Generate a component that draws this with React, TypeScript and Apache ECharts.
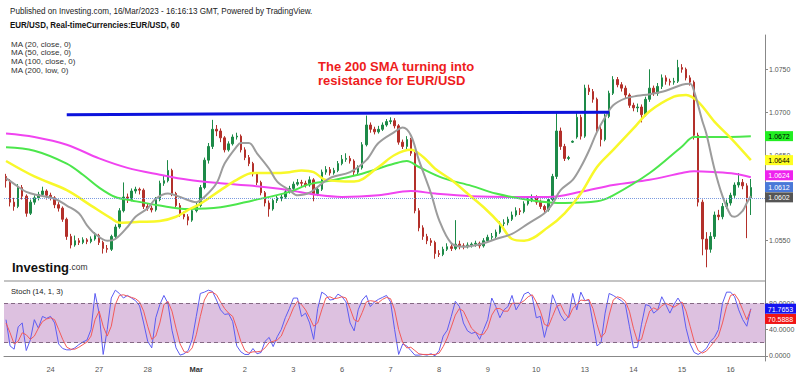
import React, { useEffect, useRef } from "react";
import * as echarts from "echarts";

const FONT = "'Liberation Sans', Arial, sans-serif";

// x axis: 2-hour slots per trading day (Feb 23 starts at 02:00)
const dayLabels = ["23", "24", "27", "28", "Mar", "2", "3", "6", "7", "8", "9", "10", "13", "14", "15", "16"];
const firstDayStartHour = 2;
const slotCount = 188;

// [open, close, low, high]
const candles: number[][] = [
  [1.0625,1.0620,1.0612,1.0628],[1.0620,1.0595,1.0590,1.0622],[1.0595,1.0590,1.0585,1.0600],[1.0590,1.0612,1.0588,1.0616],[1.0612,1.0602,1.0598,1.0615],
  [1.0602,1.0582,1.0578,1.0604],[1.0582,1.0595,1.0580,1.0598],[1.0595,1.0600,1.0592,1.0603],[1.0600,1.0604,1.0597,1.0607],[1.0604,1.0608,1.0601,1.0613],
  [1.0608,1.0603,1.0598,1.0610],[1.0603,1.0600,1.0597,1.0606],[1.0600,1.0592,1.0588,1.0602],[1.0592,1.0588,1.0584,1.0595],[1.0588,1.0575,1.0572,1.0590],
  [1.0575,1.0555,1.0551,1.0577],[1.0555,1.0545,1.0541,1.0558],[1.0545,1.0550,1.0543,1.0556],[1.0550,1.0548,1.0545,1.0553],[1.0548,1.0551,1.0546,1.0554],
  [1.0551,1.0549,1.0546,1.0553],[1.0549,1.0552,1.0547,1.0555],[1.0552,1.0556,1.0550,1.0560],[1.0556,1.0548,1.0545,1.0558],[1.0548,1.0541,1.0535,1.0550],
  [1.0541,1.0540,1.0536,1.0545],[1.0540,1.0555,1.0538,1.0557],[1.0555,1.0566,1.0553,1.0569],[1.0566,1.0585,1.0564,1.0588],[1.0585,1.0601,1.0583,1.0618],
  [1.0601,1.0598,1.0594,1.0605],[1.0598,1.0608,1.0596,1.0611],[1.0608,1.0610,1.0605,1.0613],[1.0610,1.0609,1.0604,1.0612],[1.0609,1.0590,1.0587,1.0611],
  [1.0590,1.0588,1.0585,1.0593],[1.0588,1.0586,1.0583,1.0591],[1.0586,1.0598,1.0584,1.0601],[1.0598,1.0617,1.0596,1.0620],[1.0617,1.0620,1.0614,1.0626],
  [1.0620,1.0632,1.0618,1.0644],[1.0632,1.0605,1.0602,1.0634],[1.0605,1.0591,1.0588,1.0607],[1.0591,1.0581,1.0578,1.0594],[1.0581,1.0578,1.0575,1.0584],
  [1.0578,1.0574,1.0568,1.0581],[1.0574,1.0585,1.0572,1.0588],[1.0585,1.0591,1.0583,1.0594],[1.0591,1.0612,1.0589,1.0615],[1.0612,1.0644,1.0610,1.0647],
  [1.0644,1.0660,1.0640,1.0664],[1.0660,1.0680,1.0657,1.0691],[1.0680,1.0678,1.0672,1.0685],[1.0678,1.0670,1.0665,1.0681],[1.0670,1.0656,1.0653,1.0672],
  [1.0656,1.0663,1.0654,1.0666],[1.0663,1.0671,1.0661,1.0674],[1.0671,1.0672,1.0668,1.0676],[1.0672,1.0656,1.0653,1.0674],[1.0656,1.0647,1.0644,1.0659],
  [1.0647,1.0640,1.0637,1.0650],[1.0640,1.0628,1.0625,1.0642],[1.0628,1.0618,1.0615,1.0630],[1.0618,1.0606,1.0603,1.0620],[1.0606,1.0594,1.0590,1.0608],
  [1.0594,1.0587,1.0578,1.0597],[1.0587,1.0597,1.0585,1.0600],[1.0597,1.0600,1.0594,1.0603],[1.0600,1.0601,1.0596,1.0604],[1.0601,1.0607,1.0599,1.0610],
  [1.0607,1.0611,1.0605,1.0614],[1.0611,1.0616,1.0609,1.0619],[1.0616,1.0618,1.0614,1.0622],[1.0618,1.0617,1.0613,1.0621],[1.0617,1.0615,1.0612,1.0620],
  [1.0615,1.0621,1.0613,1.0625],[1.0621,1.0605,1.0596,1.0623],[1.0605,1.0610,1.0602,1.0613],[1.0610,1.0630,1.0608,1.0633],[1.0630,1.0633,1.0627,1.0637],
  [1.0633,1.0629,1.0626,1.0636],[1.0629,1.0632,1.0627,1.0635],[1.0632,1.0640,1.0630,1.0643],[1.0640,1.0645,1.0638,1.0650],[1.0645,1.0646,1.0642,1.0652],
  [1.0646,1.0643,1.0640,1.0649],[1.0643,1.0630,1.0626,1.0645],[1.0630,1.0635,1.0627,1.0638],[1.0635,1.0662,1.0633,1.0665],[1.0662,1.0685,1.0660,1.0696],
  [1.0685,1.0680,1.0676,1.0688],[1.0680,1.0677,1.0674,1.0683],[1.0677,1.0680,1.0675,1.0684],[1.0680,1.0685,1.0678,1.0688],[1.0685,1.0689,1.0683,1.0692],
  [1.0689,1.0690,1.0686,1.0694],[1.0690,1.0684,1.0681,1.0693],[1.0684,1.0665,1.0662,1.0686],[1.0665,1.0660,1.0657,1.0668],[1.0660,1.0668,1.0657,1.0672],
  [1.0668,1.0652,1.0649,1.0670],[1.0652,1.0585,1.0582,1.0654],[1.0585,1.0565,1.0561,1.0588],[1.0565,1.0555,1.0551,1.0568],[1.0555,1.0550,1.0546,1.0558],
  [1.0550,1.0548,1.0544,1.0553],[1.0548,1.0535,1.0529,1.0550],[1.0535,1.0534,1.0531,1.0539],[1.0534,1.0540,1.0532,1.0543],[1.0540,1.0543,1.0538,1.0547],
  [1.0543,1.0541,1.0538,1.0546],[1.0541,1.0546,1.0539,1.0574],[1.0546,1.0544,1.0540,1.0550],[1.0544,1.0543,1.0540,1.0547],[1.0543,1.0545,1.0541,1.0548],
  [1.0545,1.0546,1.0542,1.0548],[1.0546,1.0547,1.0543,1.0550],[1.0547,1.0544,1.0541,1.0549],[1.0544,1.0550,1.0542,1.0553],[1.0550,1.0554,1.0548,1.0557],
  [1.0554,1.0555,1.0551,1.0559],[1.0555,1.0560,1.0553,1.0563],[1.0560,1.0570,1.0558,1.0573],[1.0570,1.0571,1.0567,1.0575],[1.0571,1.0575,1.0568,1.0578],
  [1.0575,1.0580,1.0573,1.0584],[1.0580,1.0585,1.0578,1.0589],[1.0585,1.0584,1.0580,1.0588],[1.0584,1.0593,1.0582,1.0596],[1.0593,1.0597,1.0591,1.0600],
  [1.0597,1.0600,1.0595,1.0604],[1.0600,1.0595,1.0592,1.0603],[1.0595,1.0590,1.0587,1.0598],[1.0590,1.0586,1.0582,1.0592],[1.0586,1.0598,1.0584,1.0600],
  [1.0598,1.0625,1.0596,1.0628],[1.0625,1.0678,1.0622,1.0699],[1.0678,1.0660,1.0656,1.0682],[1.0660,1.0646,1.0643,1.0663],[1.0646,1.0647,1.0644,1.0649],
  [1.0665,1.0666,1.0664,1.0667],[1.0671,1.0694,1.0669,1.0699],[1.0694,1.0672,1.0668,1.0697],[1.0672,1.0728,1.0670,1.0732],[1.0728,1.0724,1.0720,1.0732],
  [1.0724,1.0715,1.0711,1.0727],[1.0715,1.0680,1.0676,1.0717],[1.0680,1.0668,1.0660,1.0684],[1.0668,1.0695,1.0666,1.0698],[1.0695,1.0722,1.0693,1.0725],
  [1.0722,1.0738,1.0720,1.0742],[1.0738,1.0732,1.0729,1.0741],[1.0732,1.0728,1.0724,1.0735],[1.0728,1.0720,1.0716,1.0731],[1.0720,1.0708,1.0705,1.0722],
  [1.0708,1.0705,1.0701,1.0711],[1.0705,1.0706,1.0700,1.0710],[1.0706,1.0697,1.0688,1.0709],[1.0697,1.0715,1.0695,1.0718],[1.0715,1.0728,1.0712,1.0750],
  [1.0728,1.0722,1.0719,1.0731],[1.0722,1.0730,1.0719,1.0734],[1.0730,1.0740,1.0727,1.0744],[1.0740,1.0736,1.0732,1.0743],[1.0736,1.0735,1.0731,1.0739],
  [1.0735,1.0736,1.0732,1.0740],[1.0736,1.0752,1.0734,1.0761],[1.0752,1.0750,1.0746,1.0756],[1.0750,1.0740,1.0737,1.0752],[1.0740,1.0735,1.0731,1.0743],
  [1.0735,1.0673,1.0668,1.0737],[1.0673,1.0595,1.0590,1.0676],[1.0595,1.0552,1.0533,1.0598],[1.0552,1.0540,1.0519,1.0560],[1.0540,1.0555,1.0536,1.0560],
  [1.0555,1.0580,1.0552,1.0584],[1.0580,1.0578,1.0574,1.0586],[1.0578,1.0590,1.0575,1.0594],[1.0590,1.0594,1.0587,1.0598],[1.0594,1.0603,1.0591,1.0606],
  [1.0603,1.0615,1.0600,1.0618],[1.0615,1.0618,1.0612,1.0629],[1.0618,1.0614,1.0610,1.0622],[1.0614,1.0600,1.0553,1.0617],[1.0600,1.0612,1.0580,1.0622],
];

// moving averages: [slot index, value]
const ma20: number[][] = [
  [0,1.0623],[3,1.0613],[5,1.0607],[8,1.0603],[12,1.0599],[15,1.0591],[18,1.0582],[20,1.0568],[22,1.0558],[25,1.0550],
  [27,1.0552],[30,1.0566],[32,1.0578],[35,1.0588],[37,1.0599],[40,1.0605],[43,1.0601],[47,1.0595],[49,1.0601],[52,1.0617],
  [54,1.0640],[57,1.0660],[58,1.0664],[60,1.0664],[62,1.0652],[65,1.0634],[67,1.0619],[70,1.0609],[72,1.0603],[75,1.0606],
  [80,1.0623],[85,1.0630],[89,1.0644],[92,1.0664],[96,1.0677],[98,1.0682],[100,1.0673],[102,1.0644],[105,1.0605],[107,1.0574],
  [110,1.0547],[113,1.0543],[118,1.0547],[121,1.0552],[125,1.0558],[129,1.0570],[133,1.0582],[135,1.0593],[137,1.0609],[140,1.0621],
  [142,1.0636],[144,1.0655],[146,1.0677],[148,1.0694],[150,1.0708],[153,1.0716],[156,1.0719],[159,1.0721],[163,1.0725],[167,1.0732],
  [169,1.0733],[170,1.0724],[172,1.0690],[173,1.0675],[175,1.0634],[177,1.0602],[179,1.0580],[180,1.0578],[182,1.0585],[183,1.0594],[184,1.0602],
];
const ma50: number[][] = [
  [0,1.0643],[7,1.0625],[15,1.0609],[21,1.0591],[26,1.0576],[28,1.0571],[33,1.0572],[38,1.0573],[42,1.0578],[45,1.0586],
  [48,1.0593],[53,1.0609],[57,1.0621],[61,1.0629],[66,1.0629],[70,1.0630],[73,1.0632],[76,1.0630],[79,1.0621],[86,1.0619],
  [92,1.0636],[96,1.0650],[100,1.0656],[103,1.0648],[106,1.0634],[110,1.0621],[114,1.0605],[118,1.0589],[122,1.0570],[125,1.0552],
  [128,1.0550],[134,1.0566],[138,1.0582],[142,1.0605],[146,1.0636],[150,1.0656],[155,1.0681],[159,1.0701],[165,1.0718],[168,1.0720],
  [171,1.0712],[175,1.0689],[179,1.0670],[184,1.0644],
];
const ma100: number[][] = [
  [0,1.0659],[7,1.0655],[15,1.0640],[19,1.0627],[23,1.0612],[27,1.0601],[31,1.0597],[38,1.0591],[45,1.0587],[53,1.0589],
  [61,1.0597],[70,1.0607],[75,1.0616],[80,1.0620],[87,1.0627],[96,1.0640],[99,1.0643],[102,1.0636],[108,1.0623],[115,1.0614],
  [121,1.0605],[130,1.0597],[138,1.0594],[146,1.0596],[150,1.0603],[159,1.0629],[167,1.0660],[170,1.0671],[175,1.0671],[184,1.0672],
];
const ma200: number[][] = [
  [0,1.0675],[7,1.0671],[15,1.0662],[23,1.0646],[30,1.0635],[38,1.0627],[45,1.0621],[53,1.0617],[61,1.0614],[70,1.0609],
  [76,1.0604],[83,1.0601],[92,1.0603],[100,1.0608],[106,1.0605],[115,1.0602],[126,1.0601],[134,1.0601],[142,1.0607],[150,1.0615],
  [159,1.0621],[167,1.0629],[170,1.0631],[175,1.0630],[180,1.0628],[184,1.0624],
];

// drawn resistance trendline: [slot index, price]
const resistanceLine: number[][] = [[15, 1.0697], [149, 1.0700]];

// Stochastic (14, 1, 3)
const stochK: number[] = [
  55,15,10,44,50,8,24,55,42,60, 57,60,50,18,11,9,9,12,17,21,
  24,40,95,65,2,40,88,100,95,88, 92,88,84,76,50,22,12,58,78,92,
  80,39,12,1,3,8,25,60,95,97, 100,98,85,70,63,64,52,15,6,2,
  2,11,3,5,22,28,14,29,40,58, 72,88,88,60,65,50,25,72,97,93,
  85,86,94,90,82,50,38,70,85,92, 75,82,86,89,92,82,40,2,18,15,
  8,1,1,2,1,3,0,8,30,39, 60,83,75,50,38,34,36,25,40,55,
  88,75,58,70,75,92,70,80,94,97, 90,58,60,28,52,93,78,62,53,60,
  95,70,97,84,85,50,15,20,65,95, 92,88,84,78,45,12,13,48,78,76,
  65,70,90,78,65,78,88,78,42,18, 5,2,6,11,22,28,40,80,97,97,
  90,70,55,45,71.7653,
];
const stochD: number[] = [
  50,35,18,22,35,32,25,30,42,52, 56,58,55,40,25,13,10,10,13,17,
  21,30,55,68,45,30,45,78,92,93, 91,89,87,82,68,45,25,30,50,78,
  83,68,42,18,6,5,12,32,60,85, 96,97,93,82,72,65,60,42,22,8,
  4,6,6,7,12,20,22,24,30,45, 58,73,83,78,70,58,45,50,70,88,
  90,87,88,90,88,72,55,52,66,82, 84,83,81,86,89,87,70,40,20,12,
  13,8,3,2,2,2,2,4,14,27, 44,62,72,68,55,42,36,32,33,42,
  62,72,72,68,68,80,80,80,84,90, 93,82,68,48,45,60,75,78,65,58,
  72,78,85,84,86,72,48,28,35,62, 85,90,88,83,68,42,22,25,48,68,
  73,70,76,80,77,74,78,82,68,45, 22,8,4,7,14,22,30,50,75,92,
  94,85,70,55,70.5888,
];

const priceTicks = [1.055, 1.06, 1.065, 1.07, 1.075];
const stochTicks = [0, 40, 80];
const stochBand = [20, 80];

const maLegend = ["MA (20, close, 0)", "MA (50, close, 0)", "MA (100, close, 0)", "MA (200, low, 0)"];

function buildCategories(): string[] {
  const cats: string[] = [];
  dayLabels.forEach((d, di) => {
    const start = di === 0 ? firstDayStartHour : 0;
    for (let h = start; h < 24 && cats.length < slotCount; h += 2) cats.push(`${d}|${h}`);
  });
  return cats;
}

function txt(x: number, y: number, text: string, size: number, opts: any = {}) {
  return {
    type: "text",
    x,
    y,
    scaleX: opts.scaleX ?? 1,
    silent: true,
    z: 100,
    style: {
      text,
      fontSize: size,
      fontFamily: FONT,
      fontWeight: opts.bold ? "bold" : "normal",
      fill: opts.color ?? "#222",
      align: opts.align ?? "left",
      textAlign: opts.align ?? "left",
      verticalAlign: "middle",
      textVerticalAlign: "middle",
    },
  };
}

export default function App() {
  const ref = useRef<HTMLDivElement>(null);

  useEffect(() => {
    if (!ref.current) return;
    const chart = echarts.init(ref.current, undefined, { renderer: "svg" });
    const categories = buildCategories();
    const last = (arr: number[][]) => arr[arr.length - 1][1];
    const lastClose = candles[candles.length - 1][1];

    const maLine = (name: string, data: number[][], color: string, width: number) => ({
      name,
      type: "line",
      xAxisIndex: 0,
      yAxisIndex: 0,
      data,
      showSymbol: false,
      smooth: 0.35,
      silent: true,
      lineStyle: { color, width },
      z: 3,
    });

    const option: any = {
      animation: false,
      backgroundColor: "#ffffff",
      textStyle: { fontFamily: FONT },
      grid: [
        { left: 4, right: 35, top: 35, height: 246 },
        { left: 4, right: 35, top: 281, height: 80 },
      ],
      xAxis: [
        {
          type: "category",
          gridIndex: 0,
          data: categories,
          boundaryGap: true,
          axisLine: { show: false },
          axisTick: { show: false },
          axisLabel: { show: false },
          splitLine: { show: false },
        },
        {
          type: "category",
          gridIndex: 1,
          data: categories,
          boundaryGap: true,
          axisLine: { show: true, lineStyle: { color: "#888", width: 1 } },
          axisTick: { show: false },
          splitLine: { show: false },
          axisLabel: {
            interval: (_i: number, v: string) => v.split("|")[1] === "0",
            formatter: (v: string) => {
              const d = v.split("|")[0];
              return d === "Mar" ? "{m|Mar}" : d;
            },
            fontSize: 7.5,
            color: "#555",
            margin: 4,
            rich: { m: { fontWeight: "bold", fontSize: 7.5, color: "#333" } },
          },
        },
      ],
      yAxis: [
        {
          type: "value",
          gridIndex: 0,
          position: "right",
          min: 1.0503,
          max: 1.079,
          scale: true,
          splitLine: { show: false },
          axisLine: { show: true, lineStyle: { color: "#888", width: 1 } },
          axisTick: { show: true, length: 3, lineStyle: { color: "#888" }, customValues: priceTicks },
          axisLabel: {
            customValues: priceTicks,
            formatter: (v: number) => v.toFixed(4),
            fontSize: 7,
            color: "#555",
            margin: 4,
          },
        },
        {
          type: "value",
          gridIndex: 1,
          position: "right",
          min: -8,
          max: 114,
          splitLine: { show: false },
          axisLine: { show: true, lineStyle: { color: "#888", width: 1 } },
          axisTick: { show: true, length: 3, lineStyle: { color: "#888" }, customValues: stochTicks },
          axisLabel: {
            customValues: stochTicks,
            formatter: (v: number) => v.toFixed(4),
            fontSize: 7,
            color: "#555",
            margin: 4,
          },
        },
      ],
      series: [
        {
          name: "EUR/USD",
          type: "candlestick",
          xAxisIndex: 0,
          yAxisIndex: 0,
          data: candles,
          barWidth: 2,
          silent: true,
          itemStyle: {
            color: "#1d8a48",
            color0: "#b3302a",
            borderColor: "#1d8a48",
            borderColor0: "#b3302a",
            borderWidth: 1,
          },
          z: 2,
        },
        maLine("MA200", ma200, "#f044f0", 2),
        maLine("MA100", ma100, "#4ce64c", 2),
        maLine("MA50", ma50, "#f8f82a", 2.5),
        maLine("MA20", ma20, "#9c9c9c", 2),
        {
          name: "resistance",
          type: "line",
          xAxisIndex: 0,
          yAxisIndex: 0,
          data: resistanceLine,
          showSymbol: false,
          silent: true,
          lineStyle: { color: "#0c12dc", width: 3 },
          z: 4,
          markLine: {
            silent: true,
            symbol: ["none", "none"],
            label: { show: false },
            lineStyle: { type: "dotted", color: "#7b9be0", width: 1 },
            data: [{ yAxis: lastClose }],
          },
        },
        {
          name: "%K",
          type: "line",
          xAxisIndex: 1,
          yAxisIndex: 1,
          data: stochK,
          showSymbol: false,
          silent: true,
          lineStyle: { color: "#5c5cf2", width: 1 },
          z: 3,
          markArea: {
            silent: true,
            itemStyle: { color: "#ddc1e0" },
            data: [[{ yAxis: stochBand[0] }, { yAxis: stochBand[1] }]],
          },
          markLine: {
            silent: true,
            symbol: ["none", "none"],
            label: { show: false },
            lineStyle: { type: [4, 3], color: "#846884", width: 1 },
            data: [{ yAxis: stochBand[0] }, { yAxis: stochBand[1] }],
          },
        },
        {
          name: "%D",
          type: "line",
          xAxisIndex: 1,
          yAxisIndex: 1,
          data: stochD,
          showSymbol: false,
          silent: true,
          lineStyle: { color: "#f25a5a", width: 1 },
          z: 3,
        },
      ],
    };

    chart.setOption(option);

    const statics: any[] = [
      txt(10, 10.5, "Published on Investing.com, 16/Mar/2023 - 16:16:13 GMT, Powered by TradingView.", 9, { scaleX: 0.9, color: "#222" }),
      txt(10, 25, "EUR/USD, Real-timeCurrencies:EUR/USD, 60", 8.4, { bold: true, scaleX: 0.95, color: "#111" }),
      ...maLegend.map((s, i) => txt(11, 44 + i * 8.7, s, 8, { color: "#333" })),
      txt(318, 66, "The 200 SMA turning into", 13, { bold: true, color: "#ee1c1c" }),
      txt(318, 80.5, "resistance for EUR/USD", 13, { bold: true, color: "#ee1c1c" }),
      {
        type: "text",
        x: 12,
        y: 267,
        silent: true,
        z: 100,
        style: {
          text: "{a|Investing}{b|.com}",
          fontFamily: FONT,
          verticalAlign: "middle",
          textVerticalAlign: "middle",
          rich: {
            a: { fontSize: 13, fontWeight: "bold", fill: "#111", color: "#111", fontFamily: FONT },
            b: { fontSize: 8.5, fill: "#333", color: "#333", fontFamily: FONT },
          },
        },
      },
      txt(11, 291, "Stoch (14, 1, 3)", 8, { scaleX: 0.95, color: "#222" }),
      {
        type: "line",
        silent: true,
        z: 50,
        shape: { x1: 4, y1: 281, x2: 765, y2: 281 },
        style: { stroke: "#c4c4c4", lineWidth: 2 },
      },
    ];

    const badge = (axis: number, value: number, text: string, bg: string, fg: string, w: number, shift: number) => {
      const py = (chart.convertToPixel({ yAxisIndex: axis } as any, value) as number) + shift;
      return [
        { type: "rect", silent: true, z: 110, shape: { x: 765, y: py - 5, width: w, height: 10 }, style: { fill: bg } },
        {
          type: "text",
          x: 765 + w / 2,
          y: py + 0.5,
          silent: true,
          z: 111,
          style: {
            text,
            fontSize: 7,
            fontFamily: FONT,
            fill: fg,
            align: "center",
            textAlign: "center",
            verticalAlign: "middle",
            textVerticalAlign: "middle",
          },
        },
      ];
    };

    const badges: any[] = [
      ...badge(0, last(ma100), last(ma100).toFixed(4), "#22ee22", "#000", 28, 0),
      ...badge(0, last(ma50), last(ma50).toFixed(4), "#ffff22", "#000", 28, 0),
      ...badge(0, last(ma200), last(ma200).toFixed(4), "#ee22ee", "#fff", 28, -2),
      ...badge(0, lastClose, lastClose.toFixed(4), "#4a78d8", "#fff", 28, -0.5),
      ...badge(0, last(ma20), last(ma20).toFixed(4), "#555555", "#fff", 28, 1.2),
      ...badge(1, stochK[stochK.length - 1], stochK[stochK.length - 1].toFixed(4), "#1414f0", "#fff", 31, 0),
      ...badge(1, stochD[stochD.length - 1], stochD[stochD.length - 1].toFixed(4), "#f01414", "#fff", 31, 9.5),
    ];

    chart.setOption({ graphic: [...statics, ...badges] });

    return () => chart.dispose();
  }, []);

  return (
    <div
      ref={ref}
      style={{ position: "fixed", left: 0, top: 0, width: 800, height: 376, background: "#fff" }}
    />
  );
}
